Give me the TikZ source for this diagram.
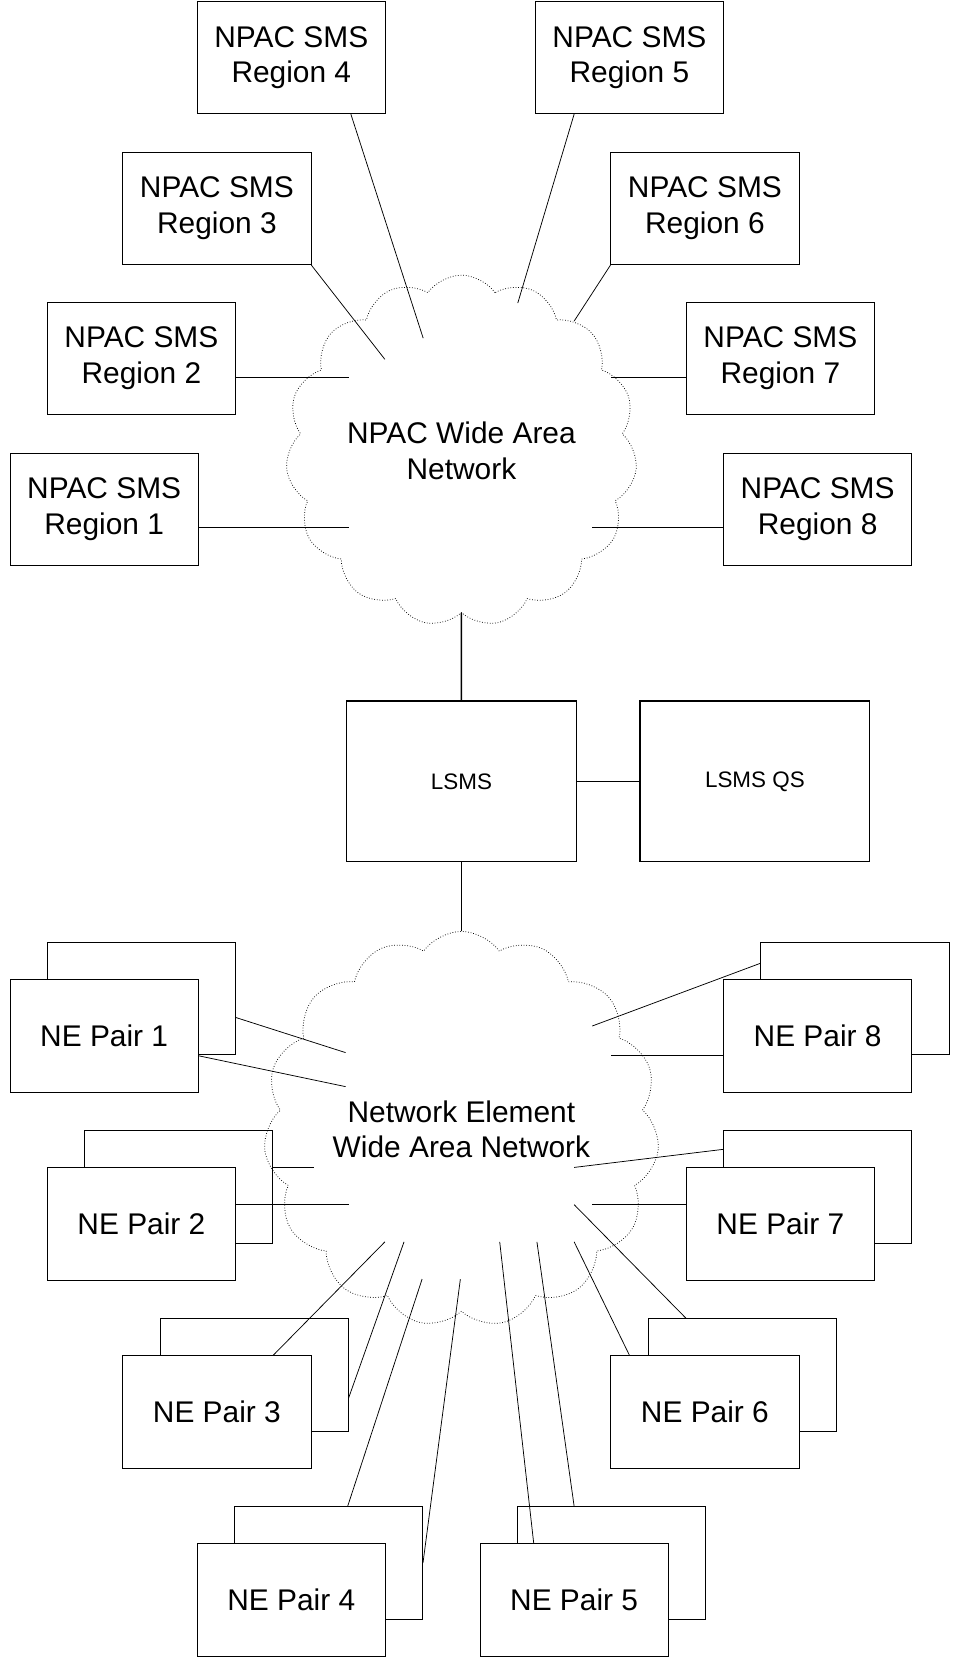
\documentclass[tikz,border=0pt]{standalone}
\usepackage{fontspec}
\setmainfont{Liberation Sans}
\usetikzlibrary{shapes.symbols,positioning,calc}
\tikzset{
  box/.style={draw, fill=white, minimum width=3.54cm, minimum height=2.12cm, align=center, font=\fontsize{16}{19}\selectfont, inner sep=0pt},
  back/.style={draw, minimum width=3.54cm, minimum height=2.12cm, inner sep=0pt},
  big/.style={draw, thick, minimum width=4.32cm, minimum height=3.02cm, font=\fontsize{12}{14}\selectfont},
  net/.style={cloud, cloud puffs=15, cloud puff arc=110, aspect=1, draw, densely dotted, minimum width=5.9cm, minimum height=5.8cm, align=center, font=\fontsize{16}{19}\selectfont, inner sep=0pt}
}
\begin{document}
\begin{tikzpicture}[x=0.02cm,y=-0.02cm]
\useasboundingbox (0,0) rectangle (901,1566);
% clouds
\node[net] (wan) at (434,424) {NPAC Wide Area\\Network};
\node[net] (newan) at (434,1062) {Network Element\\Wide Area Network};
% regions
\node[box] (r1) at (98,479) {NPAC SMS\\Region 1};
\node[box] (r2) at (133,337) {NPAC SMS\\Region 2};
\node[box] (r3) at (204,196) {NPAC SMS\\Region 3};
\node[box] (r4) at (274,54) {NPAC SMS\\Region 4};
\node[box] (r5) at (592,54) {NPAC SMS\\Region 5};
\node[box] (r6) at (663,196) {NPAC SMS\\Region 6};
\node[box] (r7) at (734,337) {NPAC SMS\\Region 7};
\node[box] (r8) at (769,479) {NPAC SMS\\Region 8};
\coordinate (c1) at (328,496); \coordinate (c2) at (328,355);
\coordinate (c3) at (362,338); \coordinate (c4) at (398,318);
\coordinate (c5) at (487,285); \coordinate (c6) at (540,302);
\coordinate (c7) at (575,355); \coordinate (c8) at (557,496);
\draw (r1.east |- c1) -- (c1);
\draw (r2.east |- c2) -- (c2);
\draw ($(r3.south east)$) -- (c3);
\draw ($(r4.south)+(56,0)$) -- (c4);
\draw ($(r5.south)+(-52,0)$) -- (c5);
\draw (r6.south west) -- (c6);
\draw (r7.west |- c7) -- (c7);
\draw (r8.west |- c8) -- (c8);
% LSMS
\node[big] (lsms) at (434,735) {LSMS};
\node[big] (qs) at (710,735) {LSMS QS};
\draw[thick] (wan.south) -- (lsms.north);
\draw[thick] (lsms.east) -- (qs.west);
\draw[thick] (lsms.south) -- (newan.north);
% NE pairs
\foreach \n/\x/\y in {1/98/974,2/133/1151,3/204/1328,4/274/1505,5/540/1505,6/663/1328,7/734/1151,8/769/974}{
  \node[back] (b\n) at (\x+35,\y-35) {};
  \node[box] (ne\n) at (\x,\y) {NE Pair \n};
}
\coordinate (e1a) at (325,990); \coordinate (e1b) at (325,1022);
\coordinate (e2a) at (295,1098); \coordinate (e2b) at (328,1133);
\coordinate (e3a) at (362,1168); \coordinate (e3b) at (380,1168);
\coordinate (e4a) at (397,1203); \coordinate (e4b) at (433,1203);
\coordinate (e5a) at (470,1168); \coordinate (e5b) at (505,1168);
\coordinate (e6a) at (540,1168); \coordinate (e6b) at (540,1133);
\coordinate (e7a) at (540,1098); \coordinate (e7b) at (557,1133);
\coordinate (e8a) at (557,965); \coordinate (e8b) at (575,993);
\draw (b1.east |- 0,957) -- (e1a); \draw (ne1.east |- 0,993) -- (e1b);
\draw (b2.south east |- 0,1098) -- (e2a); \draw (ne2.east |- 0,1133) -- (e2b);
\draw ($(ne3.north)+(53,0)$) -- (e3a); \draw ($(b3.east)+(0,22)$) -- (e3b);
\draw ($(b4.north)+(18,0)$) -- (e4a); \draw ($(b4.east)+(0,0)$) -- (e4b);
\draw ($(ne5.north)+(-38,0)$) -- (e5a); \draw ($(b5.north)+(-35,0)$) -- (e5b);
\draw ($(ne6.north)+(-71,0)$) -- (e6a); \draw ($(b6.north)+(-53,0)$) -- (e6b);
\draw ($(b7.west)+(0,-35)$) -- (e7a); \draw (ne7.west |- 0,1133) -- (e7b);
\draw ($(b8.west)+(0,-33)$) -- (e8a); \draw (ne8.west |- 0,993) -- (e8b);
\end{tikzpicture}
\end{document}
